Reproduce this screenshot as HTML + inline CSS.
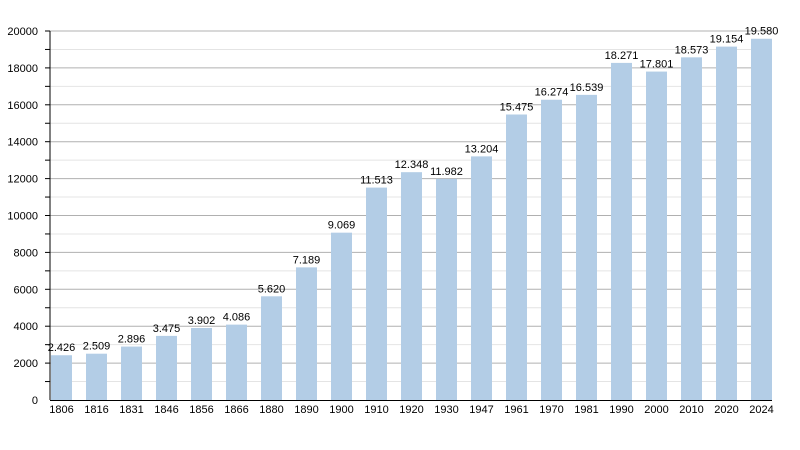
<!DOCTYPE html><html><head><style>body{margin:0;background:#fff}svg{display:block;font-family:"Liberation Sans",sans-serif}</style></head><body>
<svg width="800" height="450" xmlns="http://www.w3.org/2000/svg" id="s"></svg>
<script>
var s=document.getElementById('s'),h='';
var yrs=[1806,1816,1831,1846,1856,1866,1880,1890,1900,1910,1920,1930,1947,1961,1970,1981,1990,2000,2010,2020,2024];
var v=[2426,2509,2896,3475,3902,4086,5620,7189,9069,11513,12348,11982,13204,15475,16274,16539,18271,17801,18573,19154,19580];
function y(a){return 400-a*0.01845;}
for(var k=1000;k<=20000;k+=1000){var yy=y(k);
h+='<line x1="50" x2="772" y1="'+yy+'" y2="'+yy+'" stroke="'+(k%2000?'#e4e4e4':'#b0b0b0')+'" stroke-width="1"/>';
h+='<line x1="45" x2="50" y1="'+yy+'" y2="'+yy+'" stroke="#000"/>';
if(k%2000==0)h+='<text x="38" y="'+(yy+4)+'" font-size="11" text-anchor="end">'+k+'</text>';}
h+='<text x="38" y="404" font-size="11" text-anchor="end">0</text>';
for(var i=0;i<21;i++){var x=51+35*i,t=y(v[i]);
h+='<rect x="'+x+'" y="'+t+'" width="21" height="'+(400-t)+'" fill="#b3cde6"/>';
var s2=String(v[i]);s2=s2.slice(0,-3)+'.'+s2.slice(-3);
h+='<text x="'+(x+10.5)+'" y="'+(t-4)+'" font-size="11" text-anchor="middle">'+s2+'</text>';
h+='<text x="'+(x+10.5)+'" y="413" font-size="11" text-anchor="middle">'+yrs[i]+'</text>';}
h+='<line x1="50" x2="50" y1="31" y2="400" stroke="#000"/><line x1="50" x2="772" y1="400.5" y2="400.5" stroke="#000"/>';
s.innerHTML=h;
</script></body></html>
